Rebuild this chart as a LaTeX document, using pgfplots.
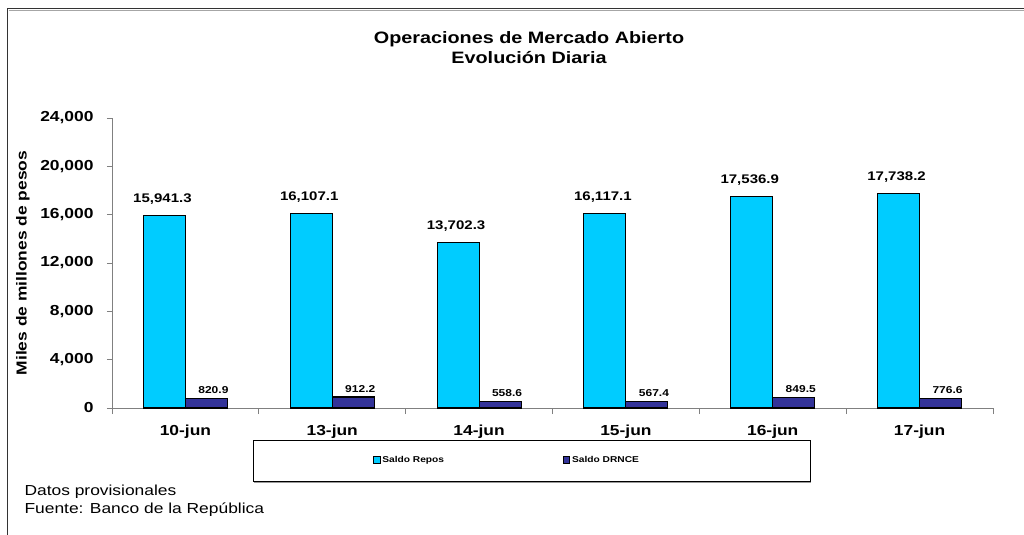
\documentclass[border=0pt]{standalone}
\usepackage{fontspec}
\setmainfont{Liberation Sans}[FakeStretch=1.2]
\usepackage{pgfplots}
\pgfplotsset{compat=1.18}
\definecolor{repos}{HTML}{00CCFF}
\definecolor{drnce}{HTML}{333399}
\definecolor{axgray}{HTML}{808080}
\begin{document}
\begin{tikzpicture}
\path[use as bounding box] (0,0) rectangle (1024bp,-535bp);
\fill[white] (0,0) rectangle (1024bp,-535bp);
% outer frame
\draw[line width=1.4bp, black!80] (7.5bp,-535bp) -- (7.5bp,-8.5bp) -- (1024bp,-8.5bp);
\draw[line width=0.8bp, black!35] (8.5bp,-10bp) -- (1024bp,-10bp);
% title
\node[font=\bfseries\fontsize{16.5bp}{20bp}\selectfont, align=center] at (529bp,-48bp) {Operaciones de Mercado Abierto\\Evolución Diaria};
% y label
\node[rotate=90, font=\bfseries\fontsize{14.5bp}{17bp}\selectfont] at (23bp,-263bp) {Miles de millones de pesos};
% legend box
\draw[line width=0.9bp, black] (253bp,-440bp) rectangle (810bp,-481bp);
\draw[line width=0.8bp, black!40] (254bp,-482bp) -- (811bp,-482bp);
% footer
\node[anchor=west, font=\fontsize{14.5bp}{18bp}\selectfont, align=left] at (21bp,-501bp) {Datos provisionales\\Fuente: Banco de la República};
\begin{axis}[
  at={(112bp,-408bp)}, anchor=south west,
  scale only axis, width=881bp, height=290bp,
  xmin=0, xmax=6, ymin=0, ymax=24000,
  axis lines*=left,
  axis line style={axgray, line width=1bp},
  tick align=outside,
  xtick={0.5,1.5,2.5,3.5,4.5,5.5},
  xticklabels={10-jun,13-jun,14-jun,15-jun,16-jun,17-jun},
  major x tick style={draw=none},
  minor xtick={0,1,2,3,4,5,6},
  minor tick length=6bp,
  major tick length=5bp,
  tick style={axgray, line width=1bp},
  ytick={0,4000,8000,12000,16000,20000,24000},
  /pgf/number format/assume math mode=true,
  yticklabel style={/pgf/number format/.cd, fixed, 1000 sep={,}, /tikz/.cd, font=\bfseries\fontsize{14.5bp}{17bp}\selectfont, xshift=-10bp},
  scaled y ticks=false,
  xticklabel style={font=\bfseries\fontsize{14.5bp}{17bp}\selectfont, yshift=-8bp},
  ybar=0pt, bar width=42bp,
  legend columns=2,
  legend style={draw=none, fill=none, at={(axis description cs:0.293,-0.179)}, anchor=west,
    font=\bfseries\fontsize{8.5bp}{10bp}\selectfont,
    /tikz/every even column/.append style={column sep=117bp}},
  legend image code/.code={\draw[#1, line width=0.6bp, draw=black] (0bp,-3.2bp) rectangle (6.4bp,3.2bp);},
  clip=false,
]
\addplot[fill=repos, draw=black, line width=1.1bp,
  nodes near coords, point meta=explicit symbolic,
  every node near coord/.append style={font=\bfseries\fontsize{12.5bp}{14bp}\selectfont, yshift=7bp, xshift=-2bp}]
  coordinates {
  (0.5,15941.3) [15,941.3]
  (1.5,16107.1) [16,107.1]
  (2.5,13702.3) [13,702.3]
  (3.5,16117.1) [16,117.1]
  (4.5,17536.9) [17,536.9]
  (5.5,17738.2) [17,738.2]
  };
\addplot[fill=drnce, draw=black, line width=1.1bp,
  nodes near coords, point meta=explicit symbolic,
  every node near coord/.append style={font=\bfseries\fontsize{10bp}{12bp}\selectfont, yshift=1bp, xshift=7bp}]
  coordinates {
  (0.5,820.9) [820.9]
  (1.5,912.2) [912.2]
  (2.5,558.6) [558.6]
  (3.5,567.4) [567.4]
  (4.5,849.5) [849.5]
  (5.5,776.6) [776.6]
  };
\legend{Saldo Repos, Saldo DRNCE}
\end{axis}
\end{tikzpicture}
\end{document}
